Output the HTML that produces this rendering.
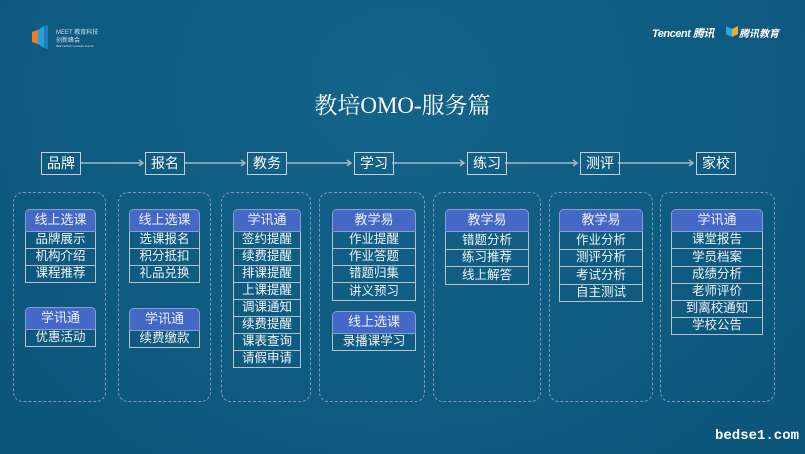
<!DOCTYPE html>
<html><head><meta charset="utf-8">
<style>
*{margin:0;padding:0;box-sizing:border-box}
body{width:805px;height:454px;overflow:hidden;background:#0e5b82;font-family:"Liberation Sans","Noto Sans CJK SC",sans-serif;position:relative;color:#fff}
.bg{position:absolute;inset:0;background:radial-gradient(ellipse at 50% 20%,#146389 0%,#0f5c83 50%,#0b5479 100%)}
.a{position:absolute}
.flow{position:absolute;top:152px;width:40px;height:23px;border:1.5px solid #c9ccd0;font-size:14px;line-height:20px;text-align:center;color:#fff}
.dash{position:absolute;top:192px;height:210px;border:1.5px dashed #7d9cb3;border-radius:10px}
.card{position:absolute;}
.card .h{height:23px;background:#4468c6;border:1.5px solid #8aa0c8;border-radius:5px 5px 0 0;font-size:13px;line-height:20px;text-align:center;color:#eef}
.card .r{border:1.5px solid #b9c0c6;border-top:none;font-size:12.5px;text-align:center;color:#f0f4f8;white-space:nowrap}
</style></head><body>
<div class="bg"></div>
<svg class="a" style="left:32px;top:24px" width="80" height="26">
<polygon points="0,8 6,6 6,20 0,18" fill="#f07a2e"/>
<polygon points="6,6 12,2 12,24 6,20" fill="#2aa0d8"/>
<polygon points="12,2 16,1 16,25 12,24" fill="#1f7ec0"/>
<text x="24" y="10" font-size="6" fill="#cfe0ea" font-family="Liberation Sans,Noto Sans CJK SC,sans-serif">MEET 教育科技</text>
<text x="24" y="18" font-size="6" fill="#cfe0ea" font-family="Noto Sans CJK SC,sans-serif">创新峰会</text>
<text x="24" y="23" font-size="2.5" fill="#cfe0ea">MEET EdTech Innovation Summit</text>
</svg>
<div class="a" style="left:652px;top:25px;font-size:11px;font-style:italic;font-weight:bold;color:#fff;letter-spacing:-0.5px">Tencent 腾讯</div>
<svg class="a" style="left:726px;top:25px" width="12" height="12"><polygon points="0,1 6,4 6,12 0,9" fill="#2aa8e0"/><polygon points="6,4 12,1 12,9 6,12" fill="#f5a623"/></svg>
<div class="a" style="left:739px;top:25px;font-size:10px;font-weight:bold;font-style:italic;color:#fff">腾讯教育</div>
<div class="a" style="left:0;width:805px;top:87px;text-align:center;font-size:23px;font-family:'Liberation Serif','Noto Serif CJK SC',serif;font-weight:normal;color:#fff">教培OMO-服务篇</div>
<svg class="a" style="left:0;top:0" width="805" height="200">
<g stroke="#a9b6c2" stroke-width="1.5" fill="none">
<line x1="81" y1="163" x2="143" y2="163"/><polyline points="139,160 143,163 139,166"/>
<line x1="184" y1="163" x2="245" y2="163"/><polyline points="241,160 245,163 241,166"/>
<line x1="286" y1="163" x2="351" y2="163"/><polyline points="347,160 351,163 347,166"/>
<line x1="392" y1="163" x2="464" y2="163"/><polyline points="460,160 464,163 460,166"/>
<line x1="505" y1="163" x2="577" y2="163"/><polyline points="573,160 577,163 573,166"/>
<line x1="618" y1="163" x2="693" y2="163"/><polyline points="689,160 693,163 689,166"/>
</g></svg>
<div class="flow" style="left:41px">品牌</div>
<div class="flow" style="left:145px">报名</div>
<div class="flow" style="left:247px">教务</div>
<div class="flow" style="left:354px">学习</div>
<div class="flow" style="left:467px">练习</div>
<div class="flow" style="left:580px">测评</div>
<div class="flow" style="left:696px">家校</div>
<div class="dash" style="left:13px;width:93px"></div>
<div class="dash" style="left:118px;width:93px"></div>
<div class="dash" style="left:221px;width:90px"></div>
<div class="dash" style="left:319px;width:106px"></div>
<div class="dash" style="left:433px;width:108px"></div>
<div class="dash" style="left:549px;width:104px"></div>
<div class="dash" style="left:660px;width:115px"></div>
<div class="card" style="left:25px;top:209px;width:71px"><div class="h">线上选课</div>
<div class="r" style="height:17px;line-height:15px">品牌展示</div><div class="r" style="height:17px;line-height:15px">机构介绍</div><div class="r" style="height:17px;line-height:15px">课程推荐</div></div>
<div class="card" style="left:25px;top:307px;width:71px"><div class="h">学讯通</div>
<div class="r" style="height:17px;line-height:15px">优惠活动</div></div>
<div class="card" style="left:129px;top:209px;width:71px"><div class="h">线上选课</div>
<div class="r" style="height:17px;line-height:15px">选课报名</div><div class="r" style="height:17px;line-height:15px">积分抵扣</div><div class="r" style="height:17px;line-height:15px">礼品兑换</div></div>
<div class="card" style="left:129px;top:308px;width:71px"><div class="h">学讯通</div>
<div class="r" style="height:17px;line-height:15px">续费缴款</div></div>
<div class="card" style="left:233px;top:209px;width:68px"><div class="h">学讯通</div>
<div class="r" style="height:17px;line-height:15px">签约提醒</div><div class="r" style="height:17px;line-height:15px">续费提醒</div><div class="r" style="height:17px;line-height:15px">排课提醒</div><div class="r" style="height:17px;line-height:15px">上课提醒</div><div class="r" style="height:17px;line-height:15px">调课通知</div><div class="r" style="height:17px;line-height:15px">续费提醒</div><div class="r" style="height:17px;line-height:15px">课表查询</div><div class="r" style="height:17px;line-height:15px">请假申请</div></div>
<div class="card" style="left:332px;top:209px;width:84px"><div class="h">教学易</div>
<div class="r" style="height:17px;line-height:15px">作业提醒</div><div class="r" style="height:17px;line-height:15px">作业答题</div><div class="r" style="height:17px;line-height:15px">错题归集</div><div class="r" style="height:18px;line-height:16px">讲义预习</div></div>
<div class="card" style="left:332px;top:311px;width:84px"><div class="h">线上选课</div>
<div class="r" style="height:17px;line-height:15px">录播课学习</div></div>
<div class="card" style="left:445px;top:209px;width:84px"><div class="h">教学易</div>
<div class="r" style="height:18px;line-height:16px">错题分析</div><div class="r" style="height:17px;line-height:15px">练习推荐</div><div class="r" style="height:18px;line-height:16px">线上解答</div></div>
<div class="card" style="left:559px;top:209px;width:84px"><div class="h">教学易</div>
<div class="r" style="height:18px;line-height:16px">作业分析</div><div class="r" style="height:17px;line-height:15px">测评分析</div><div class="r" style="height:18px;line-height:16px">考试分析</div><div class="r" style="height:17px;line-height:15px">自主测试</div></div>
<div class="card" style="left:671px;top:209px;width:92px"><div class="h">学讯通</div>
<div class="r" style="height:17px;line-height:15px">课堂报告</div><div class="r" style="height:18px;line-height:16px">学员档案</div><div class="r" style="height:17px;line-height:15px">成绩分析</div><div class="r" style="height:17px;line-height:15px">老师评价</div><div class="r" style="height:17px;line-height:15px">到离校通知</div><div class="r" style="height:17px;line-height:15px">学校公告</div></div>
<div class="a" style="left:715px;top:428px;font-family:'Liberation Mono',monospace;font-size:14px;color:#fff;font-weight:bold">bedse1.com</div>
</body></html>
